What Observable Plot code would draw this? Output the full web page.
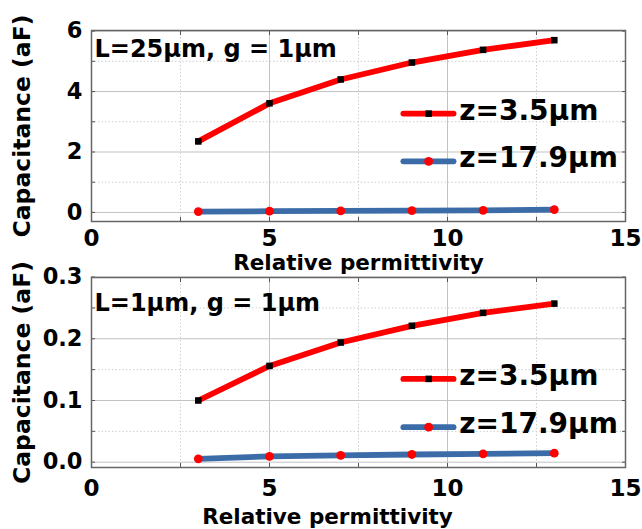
<!DOCTYPE html>
<html>
<head>
<meta charset="utf-8">
<script src="https://cdn.jsdelivr.net/npm/d3@7"></script>
<script src="https://cdn.jsdelivr.net/npm/@observablehq/plot@0.6"></script>
<style>
  body { margin: 0; background: #fff; }
  #chart { position: relative; width: 642px; height: 529px; overflow: hidden; background: #fff; }
  #chart svg { position: absolute; left: 0; }
</style>
</head>
<body>
<div id="chart"></div>
<script>
// Relative permittivity of the surrounding medium
const permittivity = [3, 5, 7, 9, 11, 13];

// Capacitance (aF), electrode length L = 25 µm, gap g = 1 µm
const capL25_z35 = [2.35, 3.61, 4.40, 4.96, 5.38, 5.70];
const capL25_z179 = [0.03, 0.04, 0.05, 0.06, 0.07, 0.09];

// Capacitance (aF), electrode length L = 1 µm, gap g = 1 µm
const capL1_z35 = [0.100, 0.156, 0.194, 0.221, 0.242, 0.257];
const capL1_z179 = [0.0055, 0.0093, 0.0109, 0.0125, 0.0136, 0.0146];

const seriesNames = ["z=3.5\u03bcm", "z=17.9\u03bcm"];
const panelNotes = ["L=25\u03bcm, g = 1\u03bcm", "L=1\u03bcm, g = 1\u03bcm"];
const xLabel = "Relative permittivity";
const yLabel = "Capacitance (aF)";

const xTicks = [0, 5, 10, 15];
const xMinorTicks = [2.5, 7.5, 12.5];
const yTicksTop = [0, 2, 4, 6];
const yMinorTop = [1, 3, 5];
const yTicksBottom = [0, 0.1, 0.2, 0.3];
const yMinorBottom = [0.05, 0.15, 0.25];

const FONT = "DejaVu Sans";
const RED = "#ff0000", BLUE = "#3c6ca8", BLACK = "#000000";
const seriesStyle = [
  {line: RED, marker: BLACK, symbol: "square", r: 3.7},
  {line: BLUE, marker: RED, symbol: "circle", r: 4.4}
];
// legend sample placement along x (data units)
const LEG = {x1: 8.76, x2: 10.17, mid: 9.47, text: 10.33};

function inwardTicks(anchor, ticks, size) {
  const axis = anchor === "top" || anchor === "bottom" ? Plot.axisX : Plot.axisY;
  return axis({anchor, ticks, tickSize: -size, tickFormat: () => "", stroke: "#555", label: null});
}

function panel(cfg) {
  const {series, yDomain, yTicks, yMinor, yFormat, note, noteDy, legendY,
         height, marginTop, marginBottom, xTickPad, xLabelDx, xLabelDy} = cfg;
  const xAll = [...xTicks, ...xMinorTicks];
  const yAll = [...yTicks, ...yMinor];
  const marks = [
    Plot.gridX(xMinorTicks, {stroke: "#cfcfcf", strokeOpacity: 1, strokeDasharray: "1.5,2"}),
    Plot.gridY(yMinor, {stroke: "#cfcfcf", strokeOpacity: 1, strokeDasharray: "1.5,2"}),
    Plot.gridX(xTicks, {stroke: "#c2c2c2", strokeOpacity: 1}),
    Plot.gridY(yTicks, {stroke: "#c2c2c2", strokeOpacity: 1}),
    inwardTicks("top", xAll, 4),
    inwardTicks("bottom", xAll, 4),
    inwardTicks("left", yAll, 4),
    inwardTicks("right", yAll, 4),
    Plot.frame({stroke: "#666", strokeWidth: 1.5}),
    Plot.axisX({ticks: xTicks, tickSize: 0, tickPadding: xTickPad, fontSize: 23, fontWeight: "bold", label: null, fill: "#000"}),
    Plot.axisY({ticks: yTicks, tickSize: 0, tickPadding: 9, tickFormat: yFormat, fontSize: 22.5, fontWeight: "bold", label: null, fill: "#000"}),
    Plot.text([xLabel], {text: d => d, frameAnchor: "bottom", dx: xLabelDx, dy: xLabelDy, lineAnchor: "bottom", textAnchor: "middle", fontSize: 21.5, fontWeight: "bold", fill: "#000"}),
    Plot.text([yLabel], {text: d => d, frameAnchor: "left", dx: -62, rotate: -90, lineAnchor: "bottom", textAnchor: "middle", fontSize: 23.5, fontWeight: "bold", fill: "#000"}),
    Plot.text([note], {text: d => d, frameAnchor: "top-left", dx: 3, dy: noteDy, lineAnchor: "bottom", textAnchor: "start", fontSize: 24, fontWeight: "bold", fill: "#000"})
  ];
  series.forEach((vals, i) => {
    const s = seriesStyle[i];
    marks.push(
      Plot.line(permittivity, {x: d => d, y: (d, j) => vals[j], stroke: s.line, strokeWidth: 5.8, strokeLinecap: "round", strokeLinejoin: "round"}),
      Plot.dot(permittivity, {x: d => d, y: (d, j) => vals[j], symbol: s.symbol, r: s.r, fill: s.marker}),
      Plot.link([0], {x1: LEG.x1, x2: LEG.x2, y1: legendY[i], y2: legendY[i], stroke: s.line, strokeWidth: 5.8, strokeLinecap: "round"}),
      Plot.dot([0], {x: LEG.mid, y: legendY[i], symbol: s.symbol, r: s.r, fill: s.marker}),
      Plot.text([seriesNames[i]], {text: d => d, x: LEG.text, y: legendY[i], dy: 6, textAnchor: "start", lineAnchor: "bottom", fontSize: 28, fontWeight: "bold", fill: "#000"})
    );
  });
  return Plot.plot({
    width: 642, height, marginTop, marginBottom, marginLeft: 91, marginRight: 17,
    style: {background: "transparent", overflow: "visible", fontFamily: FONT, color: "#000"},
    x: {domain: [0, 15]},
    y: {domain: yDomain},
    marks
  });
}

const upperPanel = panel({
  series: [capL25_z35, capL25_z179],
  yDomain: [-0.3, 6.02], yTicks: yTicksTop, yMinor: yMinorTop, yFormat: d3.format("d"),
  note: panelNotes[0], noteDy: 26, legendY: [3.27, 1.69],
  height: 270, marginTop: 30, marginBottom: 49, xTickPad: 8, xLabelDx: 0, xLabelDy: 48
});
const lowerPanel = panel({
  series: [capL1_z35, capL1_z179],
  yDomain: [-0.0086, 0.2993], yTicks: yTicksBottom, yMinor: yMinorBottom, yFormat: d3.format(".1f"),
  note: panelNotes[1], noteDy: 33, legendY: [0.135, 0.0567],
  height: 279, marginTop: 27, marginBottom: 62, xTickPad: 12, xLabelDx: -31, xLabelDy: 56
});
upperPanel.style.top = "0px";
lowerPanel.style.top = "250px";
document.getElementById("chart").append(upperPanel, lowerPanel);
</script>
</body>
</html>
